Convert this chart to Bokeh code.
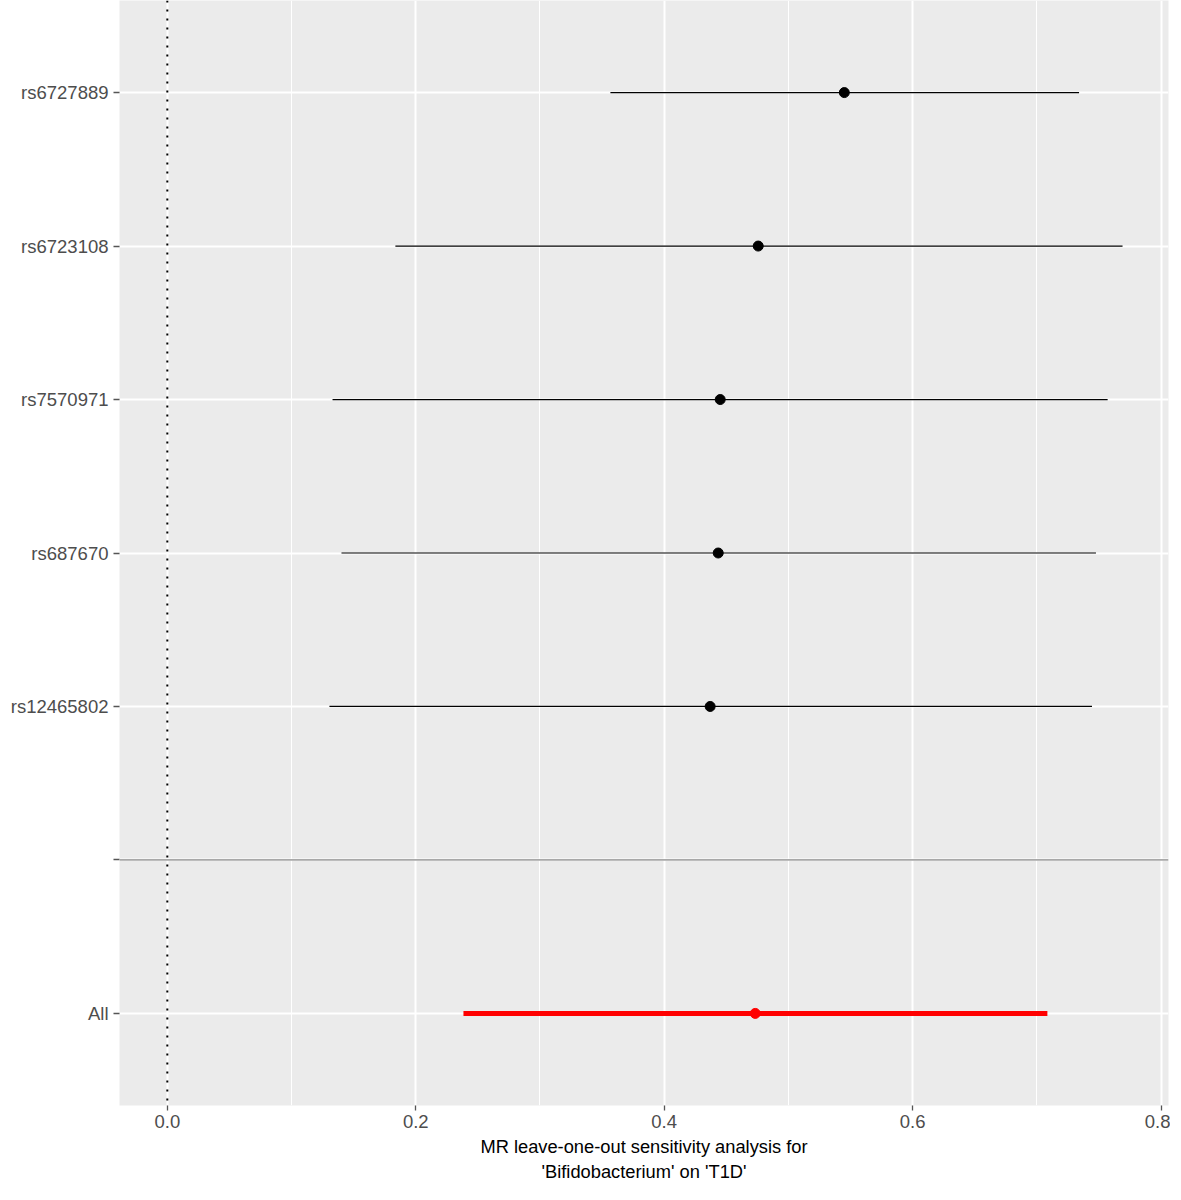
from bokeh.plotting import figure
from bokeh.models import FixedTicker, Range1d, Span
from bokeh.embed import file_html
from bokeh.resources import INLINE

# ---- data ----
snps = ["rs6727889", "rs6723108", "rs7570971", "rs687670", "rs12465802"]
b = [0.545, 0.4757, 0.4451, 0.4435, 0.437]
lo = [0.3567, 0.1836, 0.133, 0.1402, 0.1305]
hi = [0.734, 0.769, 0.757, 0.7476, 0.7444]
all_label = "All"
all_b = [0.4733]
all_lo = [0.2384]
all_hi = [0.7085]
x_ticks = [0.0, 0.2, 0.4, 0.6, 0.8]
x_minor = [0.1, 0.3, 0.5, 0.7]
x_title = "MR leave-one-out sensitivity analysis for\n'Bifidobacterium' on 'T1D'"

n = len(snps)
labels = snps + ["", all_label]          # top to bottom
ypos = list(range(len(labels), 0, -1))   # 7 .. 1
y_snp = ypos[:n]
y_sep = ypos[n]
y_all = [ypos[n + 1]]

xr = Range1d(-0.0385, 0.806)
yr = Range1d(0.4, len(labels) + 0.6)
p = figure(width=1170, height=1184, output_backend="svg", toolbar_location=None,
           x_range=xr, y_range=yr,
           min_border_left=119, min_border_right=2, min_border_top=0, min_border_bottom=0)

p.background_fill_color = "#EBEBEB"
p.border_fill_color = "white"
p.outline_line_color = None

# grid
p.xgrid.ticker = FixedTicker(ticks=x_ticks, minor_ticks=x_minor)
p.xgrid.grid_line_color = "white"
p.xgrid.grid_line_width = 2
p.xgrid.minor_grid_line_color = "white"
p.xgrid.minor_grid_line_width = 1
p.ygrid.ticker = FixedTicker(ticks=ypos)
p.ygrid.grid_line_color = "white"
p.ygrid.grid_line_width = 2

# axes
p.xaxis.ticker = FixedTicker(ticks=x_ticks)
p.xaxis.major_label_overrides = {t: f"{t:.1f}" for t in x_ticks}
p.yaxis.ticker = FixedTicker(ticks=ypos)
p.yaxis.major_label_overrides = {y: l for y, l in zip(ypos, labels)}
for ax in (p.xaxis, p.yaxis):
    ax.axis_line_color = None
    ax.major_tick_line_color = "#555555"
    ax.major_tick_line_width = 1.3
    ax.major_tick_in = 0
    ax.major_tick_out = 6
    ax.minor_tick_line_color = None
    ax.major_label_text_font = "Liberation Sans"
    ax.major_label_text_font_size = "18.5px"
    ax.major_label_text_color = "#4D4D4D"
p.yaxis.major_label_standoff = 5
p.xaxis.major_tick_out = 5
p.xaxis.major_label_standoff = 4
p.xaxis.axis_label = x_title
p.xaxis.axis_label_text_font = "Liberation Sans"
p.xaxis.axis_label_text_font_size = "18.3px"
p.xaxis.axis_label_text_font_style = "normal"
p.xaxis.axis_label_text_color = "black"
p.xaxis.axis_label_standoff = 5

# reference lines
p.add_layout(Span(location=y_sep, dimension="width", line_color="#A8A8A8", line_width=1.8))
p.add_layout(Span(location=0, dimension="height", line_color="black", line_width=2,
                  line_dash="2 7"))

# SNP estimates
p.segment(x0=lo, x1=hi, y0=y_snp, y1=y_snp, line_color="black", line_width=1.2)
p.scatter(x=b, y=y_snp, size=10, color="black")

# overall estimate
p.segment(x0=all_lo, x1=all_hi, y0=y_all, y1=y_all, line_color="red", line_width=5)
p.scatter(x=all_b, y=y_all, size=10, color="red")

open("out.html", "w").write(file_html(p, INLINE))
